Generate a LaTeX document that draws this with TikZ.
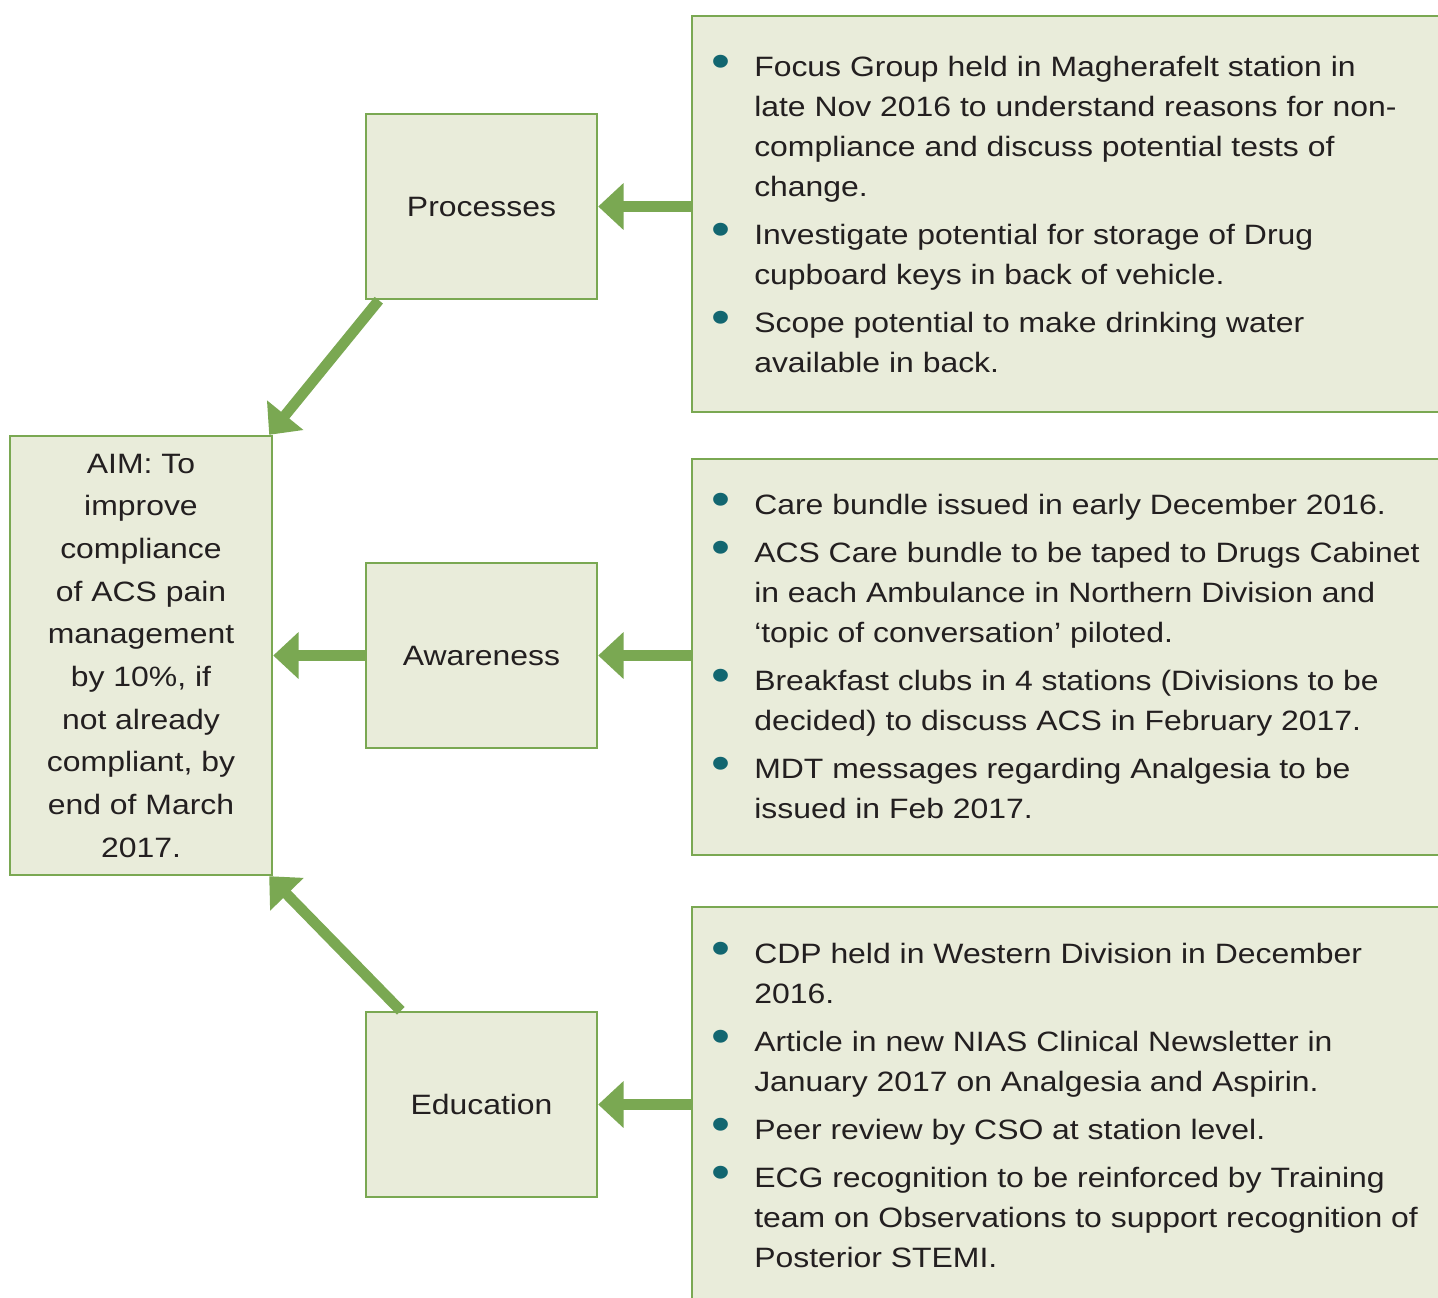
\documentclass[tikz,border=0pt]{standalone}
\usepackage{fontspec}
\usepackage{graphicx}
\setmainfont{Liberation Sans}[FakeStretch=1.14]
\usetikzlibrary{arrows.meta}
\definecolor{boxfill}{RGB}{233,236,218}
\definecolor{boxline}{RGB}{122,168,82}
\definecolor{dotteal}{RGB}{18,102,112}
\definecolor{ink}{RGB}{35,31,32}
\newcommand{\itm}{\makebox[29.25pt][l]{\hspace*{-2.5pt}\textcolor{dotteal}{\raisebox{-1pt}{\scalebox{1.7}{\textbullet}}}}}
\newcommand{\cnt}{\hspace*{29.25pt}}
\begin{document}
\begin{tikzpicture}[x=0.75pt,y=-0.75pt,
  box/.style={draw=boxline, fill=boxfill, line width=1.8pt, text=ink, align=center, inner sep=0pt, font=\fontsize{21pt}{32pt}\selectfont},
  smallbox/.style={box, minimum width=173.25pt, minimum height=138.75pt},
  listbox/.style={box, anchor=north west, minimum width=600pt},
  listtext/.style={anchor=north west, align=left, inner sep=0pt, text=ink, font=\fontsize{21pt}{30pt}\selectfont},
  arr/.style={draw=boxline, line width=8pt, -{Triangle[width=34pt,length=19pt]}}]
\path[use as bounding box, fill=white] (0,0) rectangle (1438,1297);
\node[box, minimum width=196.5pt, minimum height=329.25pt] (aim) at (141,655.5) {AIM: To\\ improve\\ compliance\\ of ACS pain\\ management\\ by 10\%, if\\ not already\\ compliant, by\\ end of March\\ 2017.};
\node[smallbox] (proc) at (481.5,206.5) {Processes};
\node[smallbox] (awar) at (481.5,655.5) {Awareness};
\node[smallbox] (edu) at (481.5,1104.5) {Education};
\node[listbox, minimum height=297pt] (procList) at (691,15) {};
\node[listbox, minimum height=297pt] (awarList) at (691,458) {};
\node[listbox, minimum height=330pt] (eduList) at (691,906) {};
\node[listtext] (procText) at (715,55) {\itm Focus Group held in Magherafelt station in\\ \cnt late Nov 2016 to understand reasons for non-\\ \cnt compliance and discuss potential tests of\\ \cnt change.\\[6pt] \itm Investigate potential for storage of Drug\\ \cnt cupboard keys in back of vehicle.\\[6pt] \itm Scope potential to make drinking water\\ \cnt available in back.};
\node[listtext] (awarText) at (715,493) {\itm Care bundle issued in early December 2016.\\[6pt] \itm ACS Care bundle to be taped to Drugs Cabinet\\ \cnt in each Ambulance in Northern Division and\\ \cnt `topic of conversation' piloted.\\[6pt] \itm Breakfast clubs in 4 stations (Divisions to be\\ \cnt decided) to discuss ACS in February 2017.\\[6pt] \itm MDT messages regarding Analgesia to be\\ \cnt issued in Feb 2017.};
\node[listtext] (eduText) at (715,942) {\itm CDP held in Western Division in December\\ \cnt 2016.\\[6pt] \itm Article in new NIAS Clinical Newsletter in\\ \cnt January 2017 on Analgesia and Aspirin.\\[6pt] \itm Peer review by CSO at station level.\\[6pt] \itm ECG recognition to be reinforced by Training\\ \cnt team on Observations to support recognition of\\ \cnt Posterior STEMI.};
\draw[arr] (procList.west |- proc.east) -- (proc.east);
\draw[arr] (awarList.west |- awar.east) -- (awar.east);
\draw[arr] (eduList.west |- edu.east) -- (edu.east);
\draw[arr] (awar.west) -- (aim.east);
\draw[arr] ([xshift=10.5pt]proc.south west) -- ([xshift=-3pt]aim.north east);
\draw[arr] ([xshift=27pt]edu.north west) -- ([xshift=-3pt]aim.south east);
\end{tikzpicture}
\end{document}
